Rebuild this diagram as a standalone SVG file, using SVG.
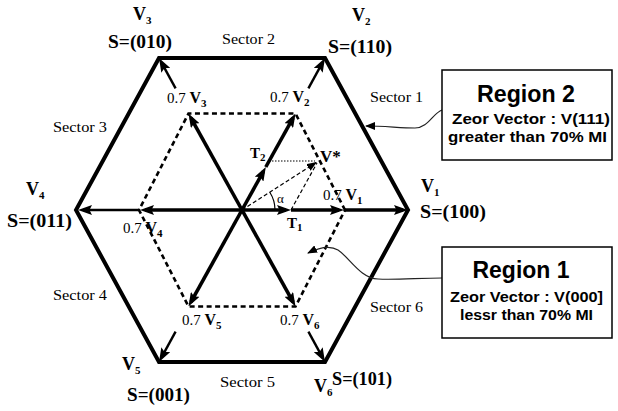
<svg xmlns="http://www.w3.org/2000/svg" width="618" height="411" viewBox="0 0 618 411">
<style>
.hex{fill:none;stroke:#000;stroke-width:4;stroke-linejoin:miter}
.inner{fill:none;stroke:#000;stroke-width:2.6;stroke-dasharray:5 3.5}
.ar{stroke:#000;stroke-width:3.6;fill:none;marker-end:url(#ah)}
.ar2{stroke:#000;stroke-width:2.4;fill:none;marker-end:url(#ah)}
.th{stroke:#000;stroke-width:1.2;fill:none}
.sb{font-family:"Liberation Serif","Times New Roman",serif;font-weight:bold;fill:#000}
.v{font-size:18px}
.s{font-size:18px}
.sub{font-size:11px}
.n{font-weight:normal;font-size:15px}
.vb{font-size:16px}
.sec{font-family:"Liberation Serif","Times New Roman",serif;font-size:14px;fill:#000}
.rg{font-family:"Liberation Sans",Arial,sans-serif;font-weight:bold;fill:#000}
.box{fill:#fff;stroke:#000;stroke-width:1.5}
.con{stroke:#222;stroke-width:1.2;fill:none;marker-end:url(#as)}
</style>
<defs>
<marker id="ah" markerUnits="userSpaceOnUse" viewBox="0 0 14 10" markerWidth="14" markerHeight="10" refX="9" refY="5" orient="auto">
<path d="M0,0 L14,5 L0,10 L2.5,5 Z" fill="#000"/>
</marker>
<marker id="as" markerUnits="userSpaceOnUse" viewBox="0 0 10 8" markerWidth="10" markerHeight="8" refX="9" refY="4" orient="auto">
<path d="M0,0 L10,4 L0,8 Z" fill="#000"/>
</marker>
</defs>
<rect width="618" height="411" fill="#fff"/>

<g id="outer-hexagon">
<polygon class="hex" points="408,210 325,58 159,58 76,210 159,362 325,362"/>
</g>
<g id="inner-hexagon">
<polygon class="inner" points="345,210 295.5,113.5 188.5,113.5 139,210 188.5,306.5 295.5,306.5"/>
</g>

<g id="connectors">
<line class="ar" x1="242" y1="210" x2="286" y2="210"/>
<line class="ar" x1="291" y1="210" x2="339" y2="210"/>
<line class="ar" x1="344" y1="210" x2="403" y2="210"/>
<line class="ar" x1="242" y1="210" x2="145" y2="210"/>
<line class="ar2" x1="140" y1="210" x2="83" y2="210"/>
<line class="ar" x1="242" y1="210" x2="263.4" y2="171.4"/>
<line class="ar" x1="265.8" y1="167" x2="293.1" y2="117.9"/>
<line class="ar" x1="242" y1="210" x2="190.9" y2="117.9"/>
<line class="ar" x1="242" y1="210" x2="190.9" y2="302.1"/>
<line class="ar" x1="242" y1="210" x2="293.1" y2="302.1"/>
<line class="ar2" x1="175.6" y1="88.4" x2="161.4" y2="62.4"/>
<line class="ar2" x1="308.4" y1="88.4" x2="322.6" y2="62.4"/>
<line class="ar2" x1="175.6" y1="331.6" x2="161.4" y2="357.6"/>
<line class="ar2" x1="308.4" y1="331.6" x2="322.6" y2="357.6"/>
<line class="th" x1="242" y1="210" x2="316" y2="162.6" stroke-dasharray="4 2.5" marker-end="url(#as)"/>
<line class="th" x1="291" y1="210" x2="317" y2="163" stroke-dasharray="4 2.5"/>
<line class="th" x1="269" y1="161" x2="315" y2="161" stroke-dasharray="1.5 1.5"/>
<path class="th" d="M275,210 A33,33 0 0 0 269.8,192.2"/>
<path class="con" d="M442,110 C433,113 428,128 415,128 C400,128 385,126 366,126"/>
<path class="con" d="M442,278 C420,278 395,280 378,279 C360,278 350,258 338,250 C330,245 320,247 308,253"/>
</g>

<g id="v3-label">
<text class="sb v" x="133" y="20">V<tspan class="sub" dy="4">3</tspan></text>
<text class="sb s" x="108" y="48" textLength="64" lengthAdjust="spacingAndGlyphs">S=(010)</text>
</g>
<g id="v2-label">
<text class="sb v" x="352" y="21">V<tspan class="sub" dy="4">2</tspan></text>
<text class="sb s" x="328" y="53" textLength="64" lengthAdjust="spacingAndGlyphs">S=(110)</text>
</g>
<g id="v1-label">
<text class="sb v" x="421" y="192">V<tspan class="sub" dy="4">1</tspan></text>
<text class="sb s" x="420" y="218" textLength="66" lengthAdjust="spacingAndGlyphs">S=(100)</text>
</g>
<g id="v4-label">
<text class="sb v" x="26" y="195">V<tspan class="sub" dy="4">4</tspan></text>
<text class="sb s" x="7" y="227" textLength="65" lengthAdjust="spacingAndGlyphs">S=(011)</text>
</g>
<g id="v5-label">
<text class="sb v" x="122" y="370">V<tspan class="sub" dy="4">5</tspan></text>
<text class="sb s" x="127" y="401" textLength="63" lengthAdjust="spacingAndGlyphs">S=(001)</text>
</g>
<g id="v6-label">
<text class="sb v" x="314" y="392">V<tspan class="sub" dy="4">6</tspan></text>
<text class="sb s" x="332" y="385" textLength="60" lengthAdjust="spacingAndGlyphs">S=(101)</text>
</g>

<g id="inner-labels">
<text class="sb" x="167" y="103"><tspan class="n">0.7 </tspan><tspan class="vb">V</tspan><tspan class="sub" dy="4">3</tspan></text>
<text class="sb" x="270" y="102"><tspan class="n">0.7 </tspan><tspan class="vb">V</tspan><tspan class="sub" dy="4">2</tspan></text>
<text class="sb" x="323" y="200"><tspan class="n">0.7 </tspan><tspan class="vb">V</tspan><tspan class="sub" dy="4">1</tspan></text>
<text class="sb" x="123" y="233"><tspan class="n">0.7 </tspan><tspan class="vb">V</tspan><tspan class="sub" dy="4">4</tspan></text>
<text class="sb" x="182" y="325"><tspan class="n">0.7 </tspan><tspan class="vb">V</tspan><tspan class="sub" dy="4">5</tspan></text>
<text class="sb" x="280" y="325"><tspan class="n">0.7 </tspan><tspan class="vb">V</tspan><tspan class="sub" dy="4">6</tspan></text>
</g>

<g id="vector-labels">
<text class="sb" x="320" y="162" font-size="17">V*</text>
<text class="sb" x="250" y="158" font-size="15">T<tspan class="sub" dy="3">2</tspan></text>
<text class="sb" x="287" y="228" font-size="15">T<tspan class="sub" dy="3">1</tspan></text>
<text x="277" y="203" font-family="Liberation Serif, serif" font-size="13">α</text>
</g>

<g id="sector-labels">
<text class="sec" x="222" y="44" textLength="53" lengthAdjust="spacingAndGlyphs">Sector 2</text>
<text class="sec" x="370" y="102" textLength="53" lengthAdjust="spacingAndGlyphs">Sector 1</text>
<text class="sec" x="53" y="132" textLength="54" lengthAdjust="spacingAndGlyphs">Sector 3</text>
<text class="sec" x="53" y="300" textLength="54" lengthAdjust="spacingAndGlyphs">Sector 4</text>
<text class="sec" x="220" y="387" textLength="55" lengthAdjust="spacingAndGlyphs">Sector 5</text>
<text class="sec" x="370" y="312" textLength="53" lengthAdjust="spacingAndGlyphs">Sector 6</text>
</g>

<g id="region2">
<rect class="box" x="442" y="70" width="170" height="90"/>
<text class="rg" x="526" y="102" font-size="24" text-anchor="middle" textLength="98" lengthAdjust="spacingAndGlyphs">Region 2</text>
<text class="rg" x="452" y="124" font-size="15" textLength="158" lengthAdjust="spacingAndGlyphs">Zeor Vector : V(111)</text>
<text class="rg" x="448" y="142" font-size="15" textLength="159" lengthAdjust="spacingAndGlyphs">greater than 70% MI</text>
</g>
<g id="region1">
<rect class="box" x="442" y="247" width="170" height="91"/>
<text class="rg" x="521" y="278" font-size="24" text-anchor="middle" textLength="97" lengthAdjust="spacingAndGlyphs">Region 1</text>
<text class="rg" x="450" y="302" font-size="15" textLength="153" lengthAdjust="spacingAndGlyphs">Zeor Vector : V(000]</text>
<text class="rg" x="460" y="320" font-size="15" textLength="133" lengthAdjust="spacingAndGlyphs">lessr than 70% MI</text>
</g>
</svg>
